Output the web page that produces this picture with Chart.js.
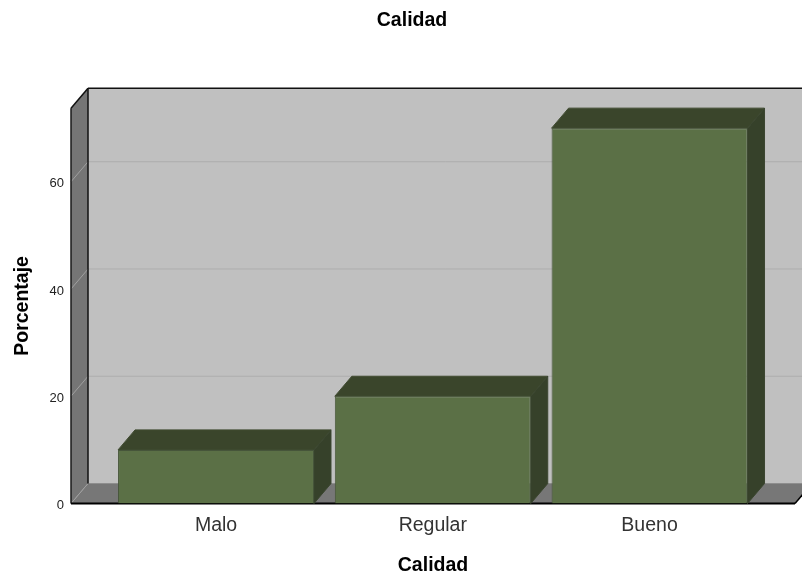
<!DOCTYPE html>
<html>
<head>
<meta charset="utf-8">
<title>Calidad</title>
<script src="https://cdn.jsdelivr.net/npm/chart.js@4/dist/chart.umd.min.js"></script>
<style>
    html, body { margin: 0; padding: 0; background: #fff; }
    canvas { display: block; }
</style>
</head>
<body>
<canvas id="bars" width="802" height="576"></canvas>
<script>
const categories = ["Malo", "Regular", "Bueno"];
const percentages = [10, 20, 70];
const percentTicks = [0, 20, 40, 60];

// Box depth of the pseudo 3D look, in pixels
const DEPTH_X = 17;
const DEPTH_Y = 20;
const FONT = "'Liberation Sans', Arial, sans-serif";

const box3d = {
    id: "box3d",
    // Walls, floor and grid lines behind the bars
    beforeDraw(chart) {
        const { ctx, chartArea: a, scales } = chart;
        const l = a.left, r = a.right, t = a.top, b = a.bottom;
        const poly = (pts, fill) => {
            ctx.beginPath();
            pts.forEach((p, i) => (i ? ctx.lineTo(p[0], p[1]) : ctx.moveTo(p[0], p[1])));
            ctx.closePath();
            ctx.fillStyle = fill;
            ctx.fill();
        };
        const line = (x1, y1, x2, y2, color, lw) => {
            ctx.beginPath();
            ctx.moveTo(x1, y1);
            ctx.lineTo(x2, y2);
            ctx.strokeStyle = color;
            ctx.lineWidth = lw || 1;
            ctx.stroke();
        };
        ctx.save();
        poly([[l + DEPTH_X, t - DEPTH_Y], [r + DEPTH_X, t - DEPTH_Y], [r + DEPTH_X, b - DEPTH_Y], [l + DEPTH_X, b - DEPTH_Y]], "#c0c0c0");
        poly([[l, t], [l + DEPTH_X, t - DEPTH_Y], [l + DEPTH_X, b - DEPTH_Y], [l, b]], "#757575");
        poly([[l, b], [l + DEPTH_X, b - DEPTH_Y], [r + DEPTH_X, b - DEPTH_Y], [r, b]], "#777777");

        percentTicks.slice(1).forEach((v) => {
            const y = scales.y.getPixelForValue(v);
            line(l, y, l + DEPTH_X, y - DEPTH_Y, "#a0a0a0");
            line(l + DEPTH_X, y - DEPTH_Y, r + DEPTH_X, y - DEPTH_Y, "#adadad");
        });

        line(l + DEPTH_X, b - DEPTH_Y, r + DEPTH_X, b - DEPTH_Y, "#8e8e8e");
        line(l, b, l + DEPTH_X, b - DEPTH_Y, "#a0a0a0");
        line(l, t, l, b, "#1a1a1a", 1.5);
        line(l, t, l + DEPTH_X, t - DEPTH_Y, "#111", 1.5);
        line(l + DEPTH_X, t - DEPTH_Y, l + DEPTH_X, b - DEPTH_Y, "#111", 1.5);
        line(l + DEPTH_X, t - DEPTH_Y, r + DEPTH_X, t - DEPTH_Y, "#111", 1.5);
        line(l, b, r, b, "#000", 2);
        line(r, b, r + DEPTH_X, b - DEPTH_Y, "#000", 1.5);
        ctx.restore();
    },
    // Top and side faces of every bar
    beforeDatasetsDraw(chart) {
        const { ctx } = chart;
        ctx.save();
        chart.getDatasetMeta(0).data.forEach((bar) => {
            const x1 = bar.x - bar.width / 2, x2 = bar.x + bar.width / 2;
            ctx.lineWidth = 1;
            ctx.beginPath();
            ctx.moveTo(x1, bar.y);
            ctx.lineTo(x1 + DEPTH_X, bar.y - DEPTH_Y);
            ctx.lineTo(x2 + DEPTH_X, bar.y - DEPTH_Y);
            ctx.lineTo(x2, bar.y);
            ctx.closePath();
            ctx.fillStyle = "#3a452b";
            ctx.strokeStyle = "#414c32";
            ctx.fill();
            ctx.stroke();
            ctx.beginPath();
            ctx.moveTo(x2, bar.y);
            ctx.lineTo(x2 + DEPTH_X, bar.y - DEPTH_Y);
            ctx.lineTo(x2 + DEPTH_X, bar.base - DEPTH_Y);
            ctx.lineTo(x2, bar.base);
            ctx.closePath();
            ctx.fillStyle = "#36412a";
            ctx.strokeStyle = "#3b4630";
            ctx.fill();
            ctx.stroke();
        });
        ctx.restore();
    },
};

const barConfig = {
    type: "bar",
    data: {
        datasets: [
            {
                label: "Porcentaje",
                backgroundColor: "#5b7046",
                borderColor: "#46553a",
                borderWidth: 1,
                barPercentage: 0.904,
                categoryPercentage: 1,
                data: categories.map((c, i) => ({ x: i + 1, y: percentages[i] })),
            },
        ],
    },
    options: {
        responsive: false,
        animation: false,
        layout: { padding: { left: 29, right: 7, top: 0, bottom: 0 } },
        plugins: {
            legend: { display: false },
            tooltip: { enabled: false },
            title: {
                display: true,
                text: "Calidad",
                color: "#000",
                font: { family: FONT, size: 19.5, weight: "bold" },
                padding: { top: 9, bottom: 75.9 },
            },
        },
        scales: {
            x: {
                type: "linear",
                offset: false,
                min: 0.331,
                max: 3.671,
                grid: { display: false, drawTicks: false },
                border: { display: false },
                ticks: {
                    stepSize: 1,
                    autoSkip: false,
                    maxRotation: 0,
                    includeBounds: false,
                    padding: 10,
                    color: "#333",
                    font: { family: FONT, size: 19.5 },
                    callback: (value) => categories[value - 1],
                },
                title: {
                    display: true,
                    text: "Calidad",
                    color: "#000",
                    font: { family: FONT, size: 19.5, weight: "bold" },
                    padding: { top: 8, bottom: -1.7 },
                },
                afterFit: (scale) => { scale.height = 72.5; },
            },
            y: {
                min: 0,
                max: 73.7,
                grid: { display: false, drawTicks: false },
                border: { display: false },
                ticks: {
                    stepSize: 20,
                    includeBounds: false,
                    padding: 7,
                    labelOffset: 2,
                    color: "#222",
                    font: { family: FONT, size: 13 },
                },
                title: {
                    display: true,
                    text: "Porcentaje",
                    color: "#000",
                    font: { family: FONT, size: 19.5, weight: "bold" },
                    padding: { top: -18.5, bottom: 0 },
                },
                afterFit: (scale) => { scale.width = 42; },
            },
        },
    },
    plugins: [box3d],
};

const barsCtx = document.getElementById("bars");
window.myBar = new Chart(barsCtx, barConfig);
</script>
</body>
</html>
